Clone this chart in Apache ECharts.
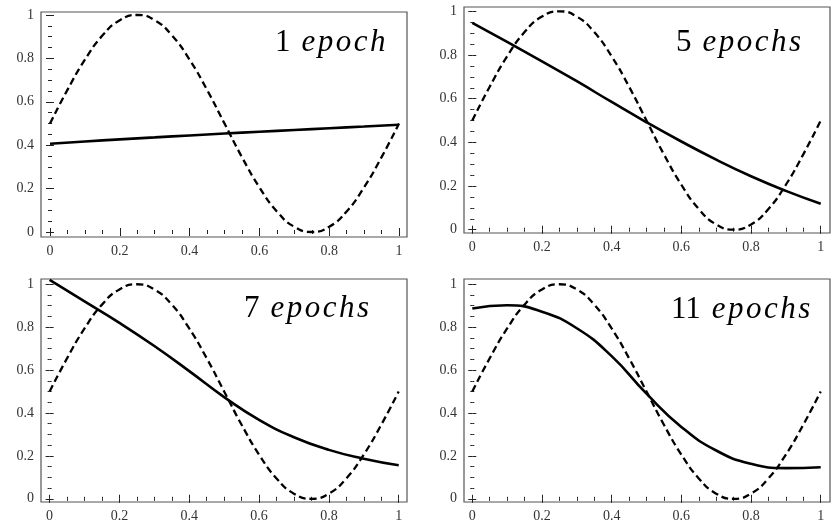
<!DOCTYPE html>
<html>
<head>
<meta charset="utf-8">
<script src="https://cdn.jsdelivr.net/npm/echarts@6/dist/echarts.min.js"></script>
<style>
  html, body { margin: 0; padding: 0; background: #fff; }
  #main { width: 835px; height: 523px; }
</style>
</head>
<body>
<div id="main"></div>
<script>
  // target function (dashed), read at steps of 0.05
  const targetX = [0, 0.05, 0.1, 0.15, 0.2, 0.25, 0.3, 0.35, 0.4, 0.45, 0.5,
    0.55, 0.6, 0.65, 0.7, 0.75, 0.8, 0.85, 0.9, 0.95, 1]
  const targetY = [0.5, 0.655, 0.794, 0.905, 0.976, 1.0, 0.976, 0.905, 0.794, 0.655, 0.5,
    0.345, 0.206, 0.095, 0.024, 0.0, 0.024, 0.095, 0.206, 0.345, 0.5]

  // network output after n epochs (solid)
  const fitX = [0, 0.1, 0.2, 0.3, 0.4, 0.5, 0.6, 0.7, 0.8, 0.9, 1]
  const epoch1 = [0.407, 0.417, 0.427, 0.436, 0.445, 0.454, 0.462, 0.47, 0.478, 0.486, 0.494]
  const epoch5 = [0.947, 0.86, 0.771, 0.68, 0.585, 0.492, 0.404, 0.321, 0.245, 0.178, 0.119]
  const epoch7 = [1.02, 0.92, 0.82, 0.712, 0.595, 0.474, 0.368, 0.287, 0.228, 0.187, 0.156]
  const epoch11 = [0.887, 0.902, 0.872, 0.795, 0.665, 0.49, 0.335, 0.225, 0.163, 0.143, 0.147]

  const majorTicks = [0, 0.2, 0.4, 0.6, 0.8, 1]
  const minorTicks = [0.05, 0.1, 0.15, 0.25, 0.3, 0.35, 0.45, 0.5, 0.55, 0.65, 0.7, 0.75,
    0.85, 0.9, 0.95]
  const panelLabels = [['1', 'epoch'], ['5', 'epochs'], ['7', 'epochs'], ['11', 'epochs']]

  const fits = [epoch1, epoch5, epoch7, epoch11]
  const grids = [
    { left: 41, top: 12, width: 366, height: 225 },
    { left: 464, top: 7, width: 366, height: 226 },
    { left: 41, top: 279, width: 366, height: 226 },
    { left: 464, top: 279, width: 366, height: 226 },
  ]
  const xRanges = [[-0.0258, 1.0229], [-0.0238, 1.0267], [-0.0247, 1.0238], [-0.0238, 1.0267]]
  const yRanges = [[-0.023, 1.0138], [-0.015, 1.02], [-0.015, 1.0245], [-0.015, 1.0245]]
  const labelPos = [[275, 27], [676, 27], [244, 293], [671, 294]]

  const font = 'Liberation Serif'

  function zip(xs, ys) {
    return xs.map((x, i) => [x, ys[i]])
  }

  function axis(gi, pos, range, ticks, len, labels) {
    return {
      type: 'value',
      gridIndex: gi,
      position: pos,
      min: range[0],
      max: range[1],
      axisLine: { show: false },
      splitLine: { show: false },
      axisTick: {
        show: true,
        inside: true,
        length: len,
        customValues: ticks,
        lineStyle: { color: '#222', width: 1 },
      },
      axisLabel: {
        show: labels,
        customValues: majorTicks,
        fontFamily: font,
        fontSize: 14,
        color: '#333',
        margin: pos === 'bottom' ? 7 : 7,
      },
    }
  }

  let xAxes = []
  let yAxes = []
  let series = []
  let graphics = []

  grids.forEach((g, gi) => {
    let xi = xAxes.length
    let yi = yAxes.length
    xAxes.push(axis(gi, 'bottom', xRanges[gi], majorTicks, 4, true))
    xAxes.push(axis(gi, 'bottom', xRanges[gi], minorTicks, 2, false))
    xAxes.push(axis(gi, 'top', xRanges[gi], majorTicks, 4, false))
    xAxes.push(axis(gi, 'top', xRanges[gi], minorTicks, 2, false))
    yAxes.push(axis(gi, 'left', yRanges[gi], majorTicks, 4, true))
    yAxes.push(axis(gi, 'left', yRanges[gi], minorTicks, 2, false))
    yAxes.push(axis(gi, 'right', yRanges[gi], majorTicks, 4, false))
    yAxes.push(axis(gi, 'right', yRanges[gi], minorTicks, 2, false))

    series.push({
      type: 'line',
      xAxisIndex: xi,
      yAxisIndex: yi,
      data: zip(targetX, targetY),
      smooth: true,
      showSymbol: false,
      lineStyle: { color: '#000', width: 2.3, type: [7, 4] },
    })
    series.push({
      type: 'line',
      xAxisIndex: xi,
      yAxisIndex: yi,
      data: zip(fitX, fits[gi]),
      smooth: 0.5,
      showSymbol: false,
      lineStyle: { color: '#000', width: 2.6 },
    })

    let word = panelLabels[gi][1].split('').map(c => '{e|' + c + '}').join('')
    graphics.push({
      type: 'text',
      x: labelPos[gi][0],
      y: labelPos[gi][1],
      style: {
        text: '{n|' + panelLabels[gi][0] + '}' + word,
        rich: {
          n: { fontFamily: font, fontSize: 31, color: '#111', padding: [0, 11, 0, 0] },
          e: { fontFamily: font, fontSize: 31, fontStyle: 'italic', color: '#111', padding: [0, 2.5, 0, 0] },
        },
      },
    })
  })

  let option = {
    animation: false,
    backgroundColor: '#fff',
    grid: grids.map(g => Object.assign({ show: true, borderColor: '#555', borderWidth: 1.2 }, g)),
    xAxis: xAxes,
    yAxis: yAxes,
    series: series,
    graphic: graphics,
  }

  var chartDom = document.getElementById('main')
  var myChart = echarts.init(chartDom)
  myChart.setOption(option)
</script>
</body>
</html>
